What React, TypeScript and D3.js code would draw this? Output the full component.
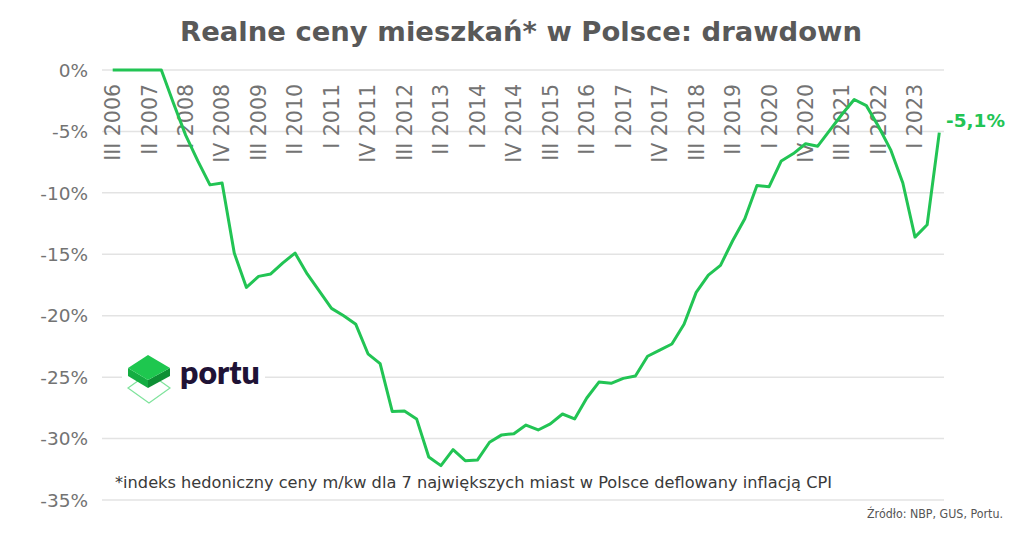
import * as d3 from "d3";
import * as React from "react";

// kwartały od III 2006 do III 2023
const romans = ["I", "II", "III", "IV"];
const quarters: string[] = [];
for (let y = 2006; y <= 2023; y++) {
    for (let q = 0; q < 4; q++) {
        if ((y === 2006 && q < 2) || (y === 2023 && q > 2)) continue;
        quarters.push(`${romans[q]} ${y}`);
    }
}

// drawdown realnych cen, %
const drawdown = [
    0, 0, 0, 0, 0, -2.7, -5.3, -7.4, -9.35, -9.2,
    -14.9, -17.7, -16.8, -16.6, -15.7, -14.9, -16.6, -18.0, -19.4, -20.0,
    -20.7, -23.1, -23.9, -27.8, -27.75, -28.4, -31.5, -32.2, -30.9, -31.8,
    -31.75, -30.3, -29.7, -29.6, -28.9, -29.3, -28.8, -28.0, -28.4, -26.7,
    -25.4, -25.5, -25.1, -24.9, -23.3, -22.8, -22.3, -20.7, -18.1, -16.7,
    -15.9, -13.9, -12.1, -9.4, -9.5, -7.4, -6.8, -6.0, -6.2, -4.9,
    -3.6, -2.4, -2.9, -4.6, -6.5, -9.2, -13.6, -12.6, -5.1,
];

const yTicks = [0, -5, -10, -15, -20, -25, -30, -35];
const xTickLabels = quarters.filter((_, i) => i % 3 === 0);

const title = "Realne ceny mieszkań* w Polsce: drawdown";
const footnote = "*indeks hedoniczny ceny m/kw dla 7 największych miast w Polsce deflowany inflacją CPI";
const source = "Źródło: NBP, GUS, Portu.";
const lastLabel = "-5,1%";

const GREEN = "#22c454";
const FONT = "'DejaVu Sans', sans-serif";

export default function App() {
    const width = 1024;
    const height = 535;

    const x = d3.scalePoint<string>()
        .domain(quarters)
        .range([112.7, 939.3]);

    const y = d3.scaleLinear()
        .domain([-35, 0])
        .range([500, 70]);

    const line = d3.line<number>()
        .x((_, i) => x(quarters[i])!)
        .y(d => y(d));

    return (
        <svg width={width} height={height} style={{ position: "absolute", left: 0, top: 0, background: "#fff" }}>
            <text x={521} y={41} textAnchor="middle" fontFamily={FONT} fontWeight={700}
                  fontSize={26} fill="#595959" textLength={682} lengthAdjust="spacingAndGlyphs">
                {title}
            </text>

            {yTicks.map(t => (
                <g key={t}>
                    <line x1={102} x2={944} y1={y(t)} y2={y(t)} stroke="#e3e3e3" strokeWidth={1.5} />
                    <text x={88} y={y(t)} dy="0.36em" textAnchor="end" fontFamily={FONT}
                          fontSize={18.5} fill="#737373">{`${t}%`}</text>
                </g>
            ))}

            {/* logo portu */}
            <rect x={122} y={350} width={143} height={56} fill="#fff" />
            <g>
                <path d="M128,388 L149,403 L170,388 L149,373 Z" fill="none" stroke="#7fe39c" strokeWidth={1.2} />
                <path d="M128,368 L148,380 L148,388 L128,376 Z" fill="#14ad42" />
                <path d="M148,380 L170,368 L170,376 L148,388 Z" fill="#0e8f35" />
                <path d="M148,355 L170,368 L148,380 L128,368 Z" fill="#1ec74f" />
                <text x={180} y={384} fontFamily="Lato, sans-serif" fontWeight={800} fontSize={32}
                      fill="#1f1336">portu</text>
            </g>

            {xTickLabels.map(q => (
                <text key={q} transform={`translate(${x(q)},84) rotate(-90)`} textAnchor="end"
                      dy="0.36em" fontFamily={FONT} fontSize={20.5} fill="#737373">{q}</text>
            ))}

            <path d={line(drawdown)!} fill="none" stroke={GREEN} strokeWidth={3} strokeLinejoin="round" />

            <text x={946} y={127} fontFamily={FONT} fontWeight={700} fontSize={18.5} fill={GREEN}>
                {lastLabel}
            </text>

            <text x={115} y={488} fontFamily={FONT} fontSize={15.5} fill="#3a3a3a"
                  textLength={717} lengthAdjust="spacingAndGlyphs">{footnote}</text>

            <text x={1003} y={518} textAnchor="end" fontFamily={FONT} fontSize={12} fill="#555"
                  textLength={136} lengthAdjust="spacingAndGlyphs">
                {source}
            </text>
        </svg>
    );
}
